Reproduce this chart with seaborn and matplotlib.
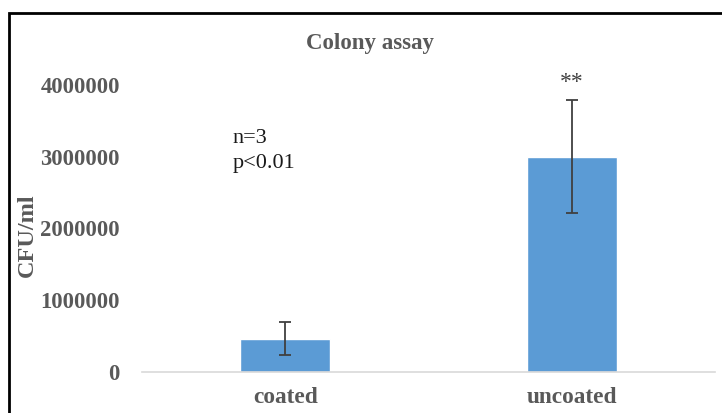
import matplotlib
matplotlib.use("Agg")
import matplotlib.pyplot as plt
from matplotlib.patches import Rectangle
import seaborn as sns
import pandas as pd

# Colony counts (mean and error) for each sample type
categories = ["coated", "uncoated"]
cfu_mean = [460000, 3000000]
cfu_err = [230000, 790000]
y_ticks = [0, 1000000, 2000000, 3000000, 4000000]

sns.set_theme(style="white")
plt.rcParams["font.family"] = ["Liberation Serif", "DejaVu Serif"]

df = pd.DataFrame({"sample": categories, "cfu": cfu_mean})

W, H = 722, 413
fig = plt.figure(figsize=(W / 100, H / 100), dpi=100)
ax = fig.add_axes([142 / W, 1 - 372 / H, (715 - 142) / W, (372 - 85) / H])

sns.barplot(data=df, x="sample", y="cfu", color="#5B9BD5", saturation=1,
            width=0.315, errorbar=None, ax=ax)
ax.errorbar(range(len(categories)), cfu_mean, yerr=cfu_err, fmt="none",
            ecolor="#404040", elinewidth=1.3, capsize=4, capthick=1.3)

ax.set_ylim(0, 4000000)
ax.set_xlim(-0.5, 1.5)
ax.set_yticks(y_ticks)
ax.set_yticklabels([str(v) for v in y_ticks])
ax.tick_params(axis="y", length=0, pad=16, labelsize=16.3, labelcolor="#595959")
ax.tick_params(axis="x", length=0, pad=11, labelsize=16.8, labelcolor="#595959")
for lbl in ax.get_xticklabels() + ax.get_yticklabels():
    lbl.set_fontweight("bold")

for side in ("top", "right", "left"):
    ax.spines[side].set_visible(False)
ax.spines["bottom"].set_color("#D9D9D9")
ax.spines["bottom"].set_linewidth(1.2)

ax.set_xlabel("")
ax.set_ylabel("")
fig.text(27 / W, 1 - 235 / H, "CFU/ml", rotation=90, ha="center", va="center",
         fontsize=17.5, fontweight="bold", color="#595959")

fig.text(370 / W, 1 - 43 / H, "Colony assay", ha="center", va="center",
         fontsize=16.5, fontweight="bold", color="#595959")

# Sample size and significance annotations
ax.text(-0.185, 3.08e6, "n=3\np<0.01", ha="left", va="center", fontsize=16,
        color="#1A1A1A", linespacing=1.45)
ax.text(1, cfu_mean[1] + cfu_err[1] + 0.1e6, "**", ha="center", va="bottom",
        fontsize=17, color="#404040")

# Outer frame
fig.add_artist(Rectangle((9 / W, -0.1), 1.2, 1 - 13 / H + 0.1,
                         transform=fig.transFigure, fill=False,
                         edgecolor="black", linewidth=2))

fig.savefig("out.png", dpi=100)
